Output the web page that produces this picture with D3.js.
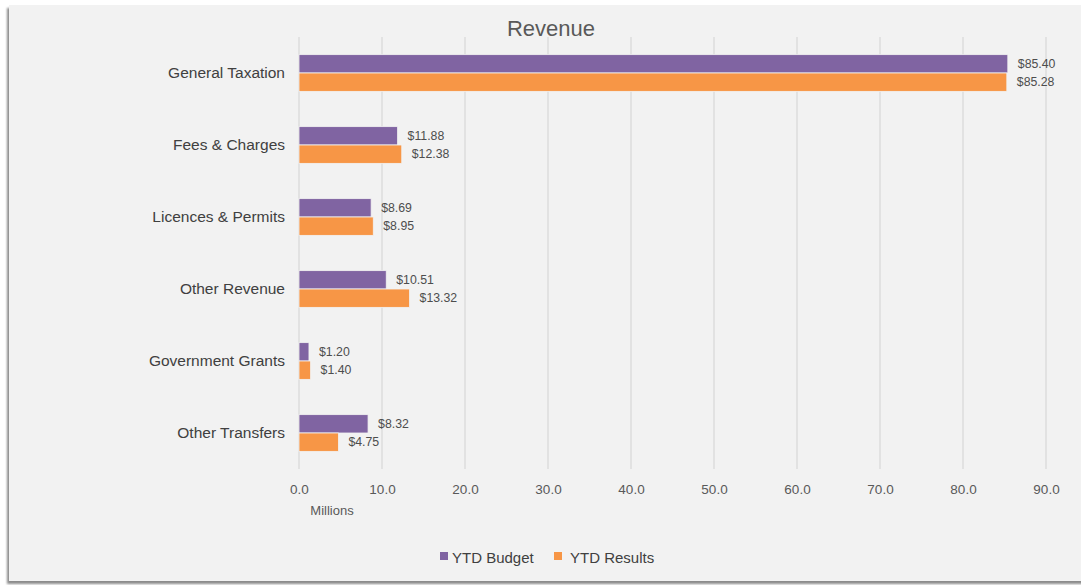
<!DOCTYPE html>
<html>
<head>
<meta charset="utf-8">
<script src="https://cdn.jsdelivr.net/npm/d3@7"></script>
<style>
  body { margin: 0; background: #fff; font-family: "Liberation Sans", Arial, sans-serif; }
  #chart { width: 1081px; height: 585px; }
</style>
</head>
<body>
<div id="chart"></div>
<script>
const categories = ['General Taxation', 'Fees & Charges', 'Licences & Permits', 'Other Revenue', 'Government Grants', 'Other Transfers'];
const seriesNames = ['YTD Budget', 'YTD Results'];
const budget = [85.40, 11.88, 8.69, 10.51, 1.20, 8.32];
const results = [85.28, 12.38, 8.95, 13.32, 1.40, 4.75];
const xTicks = [0, 10, 20, 30, 40, 50, 60, 70, 80, 90];
const colors = ['#8064a2', '#f79646'];

const W = 1081, H = 585;
const margin = { top: 37, right: 35, bottom: 116, left: 299 };
const width = 1046 - margin.left;
const height = 469 - margin.top;

const svg = d3.select('#chart')
    .append('svg')
    .attr('width', W)
    .attr('height', H);

const defs = svg.append('defs');
const f = defs.append('filter').attr('id', 'shadow')
    .attr('x', '-5%').attr('y', '-5%').attr('width', '110%').attr('height', '110%');
f.append('feDropShadow').attr('dx', -2).attr('dy', 3).attr('stdDeviation', 1.2)
    .attr('flood-color', '#000').attr('flood-opacity', 0.45);

// chart card
svg.append('rect')
    .attr('x', 9).attr('y', 5)
    .attr('width', W + 10).attr('height', 576)
    .attr('fill', '#f2f2f2')
    .attr('filter', 'url(#shadow)');

svg.append('text')
    .attr('x', 551).attr('y', 36)
    .attr('text-anchor', 'middle')
    .attr('font-size', 22)
    .attr('fill', '#595959')
    .text('Revenue');

const g = svg.append('g')
    .attr('transform', `translate(${margin.left},${margin.top})`);

const x = d3.scaleLinear().domain([0, 90]).range([0, width]);
const y = d3.scaleBand().domain(categories).range([0, height]).paddingInner(0.49).paddingOuter(0.245);
const ySub = d3.scaleBand().domain(seriesNames).range([0, y.bandwidth()]);

// gridlines
g.append('g')
    .selectAll('line')
    .data(xTicks)
    .join('line')
    .attr('x1', d => x(d)).attr('x2', d => x(d))
    .attr('y1', 0).attr('y2', height)
    .attr('stroke', '#d9d9d9')
    .attr('stroke-width', 1.3);

// x axis labels
const xAxis = d3.axisBottom(x)
    .tickValues(xTicks)
    .tickSize(0)
    .tickPadding(15)
    .tickFormat(d3.format('.1f'));

g.append('g')
    .attr('transform', `translate(0,${height})`)
    .call(xAxis)
    .call(s => s.select('.domain').remove())
    .selectAll('text')
    .attr('font-family', '"Liberation Sans", Arial, sans-serif')
    .attr('font-size', 13.5)
    .attr('fill', '#595959');

g.append('text')
    .attr('x', 33).attr('y', height + 46)
    .attr('text-anchor', 'middle')
    .attr('font-size', 13)
    .attr('fill', '#595959')
    .text('Millions');

// y axis labels
const yAxis = d3.axisLeft(y).tickSize(0).tickPadding(14);
g.append('g')
    .call(yAxis)
    .call(s => s.select('.domain').remove())
    .selectAll('text')
    .attr('font-family', '"Liberation Sans", Arial, sans-serif')
    .attr('font-size', 15.5)
    .attr('fill', '#404040');

const rows = categories.map((c, i) => ({ cat: c, vals: [budget[i], results[i]] }));

const grp = g.selectAll('.cat')
    .data(rows)
    .join('g')
    .attr('class', 'cat')
    .attr('transform', d => `translate(0,${y(d.cat)})`);

grp.selectAll('rect')
    .data(d => d.vals.map((v, j) => ({ v, s: seriesNames[j], j })))
    .join('rect')
    .attr('x', 0)
    .attr('y', d => ySub(d.s))
    .attr('width', d => x(d.v))
    .attr('height', ySub.bandwidth())
    .attr('fill', d => colors[d.j])
    .attr('stroke', '#f2f2f2')
    .attr('stroke-width', 0.8);

grp.selectAll('.lbl')
    .data(d => d.vals.map((v, j) => ({ v, s: seriesNames[j], j })))
    .join('text')
    .attr('class', 'lbl')
    .attr('x', d => x(d.v) + 10)
    .attr('y', d => ySub(d.s) + ySub.bandwidth() / 2 + 4)
    .attr('font-size', 12.3)
    .attr('fill', '#4d4d4d')
    .text(d => '$' + d3.format('.2f')(d.v));

// legend
const legend = svg.append('g').attr('transform', 'translate(440,558)');
const items = [{ name: seriesNames[0], x: 0, tx: 12 }, { name: seriesNames[1], x: 114, tx: 130 }];
items.forEach((it, j) => {
  legend.append('rect')
      .attr('x', it.x).attr('y', -6)
      .attr('width', 8).attr('height', 8)
      .attr('fill', colors[j]);
  legend.append('text')
      .attr('x', it.tx).attr('y', 5)
      .attr('font-size', 15)
      .attr('fill', '#404040')
      .text(it.name);
});
</script>
</body>
</html>
